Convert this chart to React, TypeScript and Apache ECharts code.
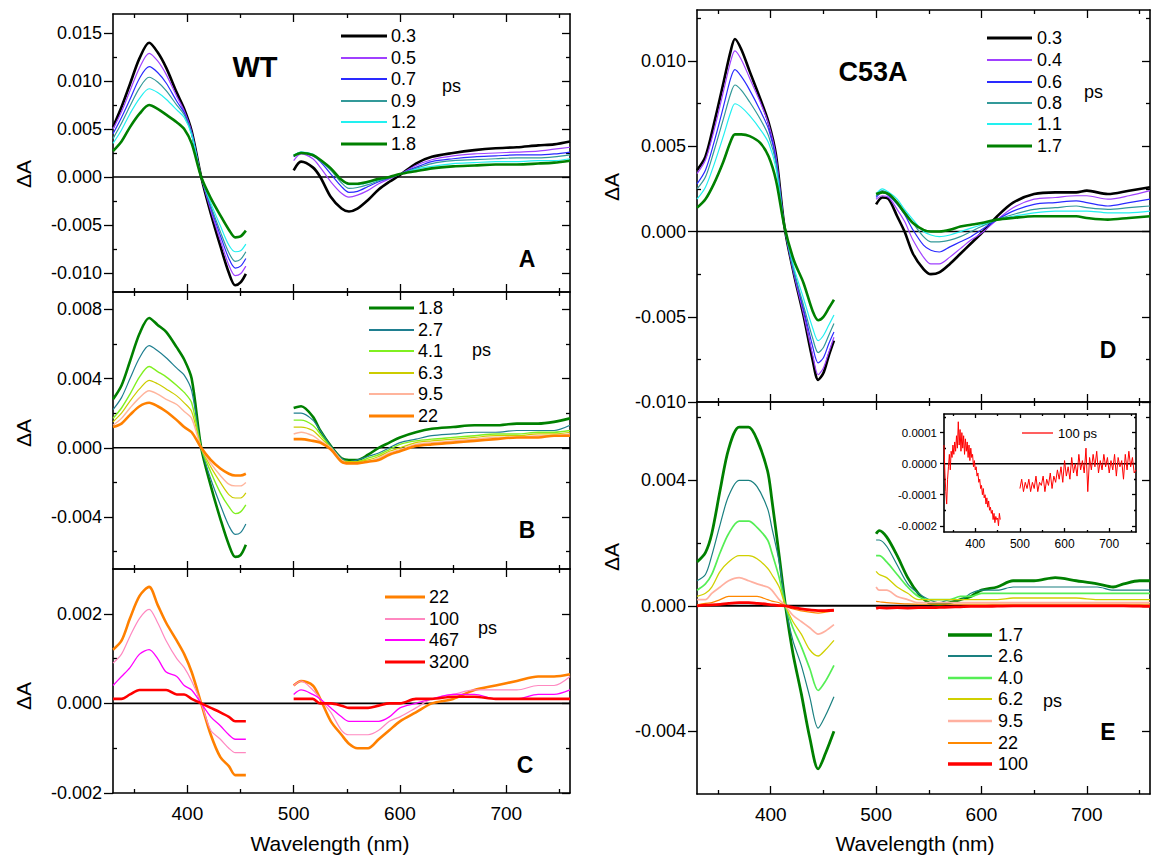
import React, { useEffect, useRef } from "react";
import * as echarts from "echarts";

const FONT = "'Liberation Sans', Arial, Helvetica, sans-serif";

const waveMin = 330;
const waveMax = 760;
const waveMajor = [400, 500, 600, 700];
const waveMinor = [350, 450, 550, 650, 750];

// ---------------- Panel A : WT, 0.3 - 1.8 ps ----------------
const aTimes = ["0.3", "0.5", "0.7", "0.9", "1.2", "1.8"];
const aLeftWave = [330, 338, 346, 355, 364, 372, 380, 390, 397, 404, 413, 422, 431, 439, 445, 450, 455];
const aRightWave = [500, 507, 518, 525, 535, 545, 552, 560, 570, 580, 590, 600, 615, 630, 650, 670, 690, 710, 730, 745, 760];
const aLeft = [
  [0.0052, 0.0073, 0.0097, 0.0124, 0.0140, 0.0130, 0.0114, 0.0088, 0.0071, 0.0048, 0, -0.0038, -0.0072, -0.0100, -0.0113, -0.0110, -0.0101],
  [0.0050, 0.0068, 0.0090, 0.0114, 0.0129, 0.0121, 0.0107, 0.0084, 0.0069, 0.0047, 0, -0.0035, -0.0066, -0.0092, -0.0103, -0.0101, -0.0093],
  [0.0045, 0.0062, 0.0081, 0.0103, 0.0115, 0.0109, 0.0098, 0.0079, 0.0067, 0.0046, 0, -0.0032, -0.0061, -0.0085, -0.0095, -0.0093, -0.0085],
  [0.0040, 0.0056, 0.0074, 0.0093, 0.0104, 0.0099, 0.0090, 0.0075, 0.0065, 0.0045, 0, -0.0030, -0.0057, -0.0079, -0.0088, -0.0086, -0.0078],
  [0.0035, 0.0049, 0.0066, 0.0082, 0.0092, 0.0088, 0.0081, 0.0070, 0.0062, 0.0044, 0, -0.0027, -0.0051, -0.0071, -0.0078, -0.0077, -0.0070],
  [0.0027, 0.0037, 0.0052, 0.0066, 0.0075, 0.0071, 0.0065, 0.0057, 0.0050, 0.0035, 0, -0.0022, -0.0040, -0.0055, -0.0063, -0.0062, -0.0056],
];
const aRight = [
  [0.0007, 0.0016, 0.0010, 0, -0.0021, -0.0033, -0.0036, -0.0033, -0.0024, -0.0013, -0.0005, 0.0002, 0.0014, 0.0021, 0.0025, 0.0028, 0.0030, 0.0031, 0.0033, 0.0034, 0.0037],
  [0.0017, 0.0024, 0.0019, 0.0010, -0.0005, -0.0017, -0.0021, -0.0019, -0.0014, -0.0007, -0.0002, 0.0003, 0.0012, 0.0018, 0.0022, 0.0024, 0.0025, 0.0026, 0.0027, 0.0029, 0.0031],
  [0.0021, 0.0025, 0.0022, 0.0016, 0.0003, -0.0010, -0.0016, -0.0015, -0.0010, -0.0005, -0.0001, 0.0003, 0.0010, 0.0016, 0.0019, 0.0021, 0.0022, 0.0023, 0.0023, 0.0024, 0.0026],
  [0.0022, 0.0026, 0.0023, 0.0017, 0.0007, -0.0006, -0.0012, -0.0011, -0.0008, -0.0004, -0.0001, 0.0003, 0.0009, 0.0014, 0.0017, 0.0018, 0.0019, 0.0020, 0.0020, 0.0021, 0.0023],
  [0.0023, 0.0026, 0.0024, 0.0018, 0.0009, -0.0003, -0.0008, -0.0008, -0.0006, -0.0003, 0, 0.0003, 0.0008, 0.0011, 0.0014, 0.0015, 0.0016, 0.0016, 0.0017, 0.0017, 0.0019],
  [0.0022, 0.0025, 0.0023, 0.0018, 0.0009, -0.0003, -0.0007, -0.0007, -0.0005, -0.0002, 0, 0.0003, 0.0006, 0.0009, 0.0011, 0.0012, 0.0013, 0.0013, 0.0014, 0.0015, 0.0017],
];
const aYMajor = [-0.01, -0.005, 0, 0.005, 0.01, 0.015];
const aYMinor = [-0.0075, -0.0025, 0.0025, 0.0075, 0.0125];

// ---------------- Panel B : WT, 1.8 - 22 ps ----------------
const bTimes = ["1.8", "2.7", "4.1", "6.3", "9.5", "22"];
const bLeftWave = [330, 338, 346, 355, 364, 372, 380, 390, 397, 404, 413, 422, 431, 439, 445, 450, 455];
const bRightWave = [500, 507, 518, 525, 535, 545, 552, 560, 570, 580, 590, 600, 615, 630, 650, 670, 690, 710, 730, 745, 760];
const bLeft = [
  [0.0028, 0.0036, 0.0050, 0.0066, 0.0075, 0.0071, 0.0067, 0.0058, 0.0051, 0.0040, 0, -0.0022, -0.0041, -0.0056, -0.0063, -0.0062, -0.0056],
  [0.0022, 0.0029, 0.0040, 0.0052, 0.0059, 0.0056, 0.0052, 0.0046, 0.0042, 0.0033, 0, -0.0018, -0.0033, -0.0045, -0.0050, -0.0049, -0.0044],
  [0.0017, 0.0023, 0.0031, 0.0041, 0.0047, 0.0044, 0.0041, 0.0036, 0.0032, 0.0026, 0, -0.0014, -0.0026, -0.0034, -0.0038, -0.0037, -0.0033],
  [0.0015, 0.0020, 0.0027, 0.0034, 0.0039, 0.0037, 0.0034, 0.0030, 0.0026, 0.0021, 0, -0.0011, -0.0020, -0.0027, -0.0029, -0.0029, -0.0026],
  [0.0013, 0.0017, 0.0023, 0.0029, 0.0033, 0.0031, 0.0028, 0.0025, 0.0021, 0.0017, 0, -0.0009, -0.0016, -0.0021, -0.0022, -0.0022, -0.0020],
  [0.0012, 0.0014, 0.0019, 0.0024, 0.0026, 0.0024, 0.0021, 0.0016, 0.0012, 0.0009, 0, -0.0007, -0.0012, -0.0015, -0.0016, -0.0016, -0.0015],
];
const bRight = [
  [0.0023, 0.0024, 0.0018, 0.0010, 0.0001, -0.0006, -0.0007, -0.0007, -0.0004, 0, 0.0003, 0.0006, 0.0009, 0.0011, 0.0012, 0.0013, 0.0013, 0.0014, 0.0014, 0.0015, 0.0017],
  [0.0020, 0.0020, 0.0016, 0.0010, 0.0001, -0.0006, -0.0008, -0.0007, -0.0005, -0.0003, 0, 0.0003, 0.0005, 0.0007, 0.0008, 0.0009, 0.0009, 0.0010, 0.0010, 0.0010, 0.0013],
  [0.0016, 0.0016, 0.0013, 0.0008, 0, -0.0007, -0.0008, -0.0008, -0.0006, -0.0004, -0.0001, 0.0002, 0.0004, 0.0005, 0.0006, 0.0007, 0.0008, 0.0008, 0.0009, 0.0009, 0.0010],
  [0.0012, 0.0012, 0.0010, 0.0006, 0, -0.0007, -0.0008, -0.0008, -0.0007, -0.0005, -0.0002, 0, 0.0003, 0.0004, 0.0005, 0.0006, 0.0007, 0.0007, 0.0008, 0.0008, 0.0009],
  [0.0008, 0.0009, 0.0007, 0.0004, 0, -0.0007, -0.0009, -0.0009, -0.0008, -0.0006, -0.0003, -0.0001, 0.0002, 0.0003, 0.0004, 0.0005, 0.0006, 0.0006, 0.0007, 0.0007, 0.0008],
  [0.0005, 0.0005, 0.0004, 0.0003, -0.0001, -0.0008, -0.0009, -0.0009, -0.0008, -0.0007, -0.0004, -0.0002, 0.0001, 0.0002, 0.0003, 0.0004, 0.0005, 0.0006, 0.0006, 0.0007, 0.0007],
];
const bYMajor = [-0.004, 0, 0.004, 0.008];
const bYMinor = [-0.006, -0.002, 0.002, 0.006];

// ---------------- Panel C : WT, 22 - 3200 ps ----------------
const cTimes = ["22", "100", "467", "3200"];
const cLeftWave = [330, 338, 346, 355, 364, 372, 380, 390, 397, 404, 413, 422, 431, 439, 445, 450, 455];
const cRightWave = [500, 507, 518, 525, 535, 545, 552, 560, 570, 580, 590, 600, 615, 630, 650, 670, 690, 710, 730, 745, 760];
const cLeft = [
  [0.0012, 0.0014, 0.0019, 0.0024, 0.0026, 0.0022, 0.0018, 0.0014, 0.0011, 0.0007, 0, -0.0007, -0.0012, -0.0014, -0.0016, -0.0016, -0.0016],
  [0.0009, 0.0011, 0.0015, 0.0019, 0.0021, 0.0018, 0.0014, 0.0010, 0.0008, 0.0005, 0, -0.0006, -0.0008, -0.0010, -0.0011, -0.0011, -0.0011],
  [0.0004, 0.0006, 0.0008, 0.0011, 0.0012, 0.0010, 0.0007, 0.0006, 0.0004, 0.0003, 0, -0.0003, -0.0005, -0.0007, -0.0008, -0.0008, -0.0008],
  [0.0001, 0.0001, 0.0002, 0.0003, 0.0003, 0.0003, 0.0003, 0.0002, 0.0002, 0.0001, 0, -0.0001, -0.0002, -0.0003, -0.0004, -0.0004, -0.0004],
];
const cRight = [
  [0.0004, 0.0005, 0.0004, 0.0001, -0.0004, -0.0007, -0.0009, -0.0010, -0.0010, -0.0008, -0.0006, -0.0004, -0.0002, 0, 0.0001, 0.0003, 0.0004, 0.0005, 0.0006, 0.0006, 0.00065],
  [0.0004, 0.0005, 0.0003, 0.0001, -0.0002, -0.0006, -0.0007, -0.0007, -0.0007, -0.0006, -0.0004, -0.0003, -0.0001, 0.0001, 0.0002, 0.0003, 0.0003, 0.0003, 0.0004, 0.0004, 0.0006],
  [0.0002, 0.0003, 0.0002, 0.0001, -0.0001, -0.0003, -0.0004, -0.0004, -0.0004, -0.0004, -0.0003, -0.0001, 0, 0.0001, 0.0002, 0.0002, 0.0001, 0.0001, 0.0002, 0.0002, 0.0003],
  [0.0001, 0.0001, 0.0001, 0, 0, -0.00005, -0.0001, -0.0001, -0.0001, -0.00005, 0, 0, 0.0001, 0.0001, 0.00015, 0.00015, 0.0001, 0.0001, 0.0001, 0.0001, 0.0001],
];
const cYMajor = [-0.002, 0, 0.002];
const cYMinor = [-0.001, 0.001];

// ---------------- Panel D : C53A, 0.3 - 1.7 ps ----------------
const dTimes = ["0.3", "0.4", "0.6", "0.8", "1.1", "1.7"];
const dLeftWave = [330, 338, 346, 355, 362, 366, 372, 380, 390, 398, 405, 413, 422, 431, 440, 445, 450, 455, 460];
const dRightWave = [500, 506, 512, 520, 527, 535, 545, 552, 560, 570, 580, 590, 600, 615, 630, 650, 670, 690, 700, 720, 740, 760];
const dLeft = [
  [0.0036, 0.0044, 0.0063, 0.0087, 0.0106, 0.0113, 0.0107, 0.0094, 0.0078, 0.0064, 0.0045, 0.0003, -0.0025, -0.0049, -0.0076, -0.0087, -0.0083, -0.0073, -0.0064],
  [0.0034, 0.0042, 0.0059, 0.0082, 0.0100, 0.0106, 0.0101, 0.0090, 0.0076, 0.0063, 0.0044, 0.0003, -0.0025, -0.0048, -0.0073, -0.0084, -0.0080, -0.0071, -0.0062],
  [0.0028, 0.0036, 0.0052, 0.0073, 0.0090, 0.0095, 0.0091, 0.0083, 0.0071, 0.0060, 0.0042, 0.0003, -0.0024, -0.0045, -0.0068, -0.0077, -0.0074, -0.0066, -0.0059],
  [0.0025, 0.0032, 0.0047, 0.0066, 0.0081, 0.0086, 0.0083, 0.0076, 0.0066, 0.0056, 0.0040, 0.0003, -0.0023, -0.0043, -0.0063, -0.0071, -0.0068, -0.0061, -0.0054],
  [0.0019, 0.0026, 0.0039, 0.0056, 0.0070, 0.0075, 0.0073, 0.0068, 0.0060, 0.0052, 0.0037, 0.0003, -0.0021, -0.0039, -0.0057, -0.0064, -0.0061, -0.0055, -0.0049],
  [0.0014, 0.0019, 0.0028, 0.0041, 0.0053, 0.0057, 0.0057, 0.0056, 0.0052, 0.0044, 0.0030, 0.0003, -0.0017, -0.0030, -0.0047, -0.0052, -0.0050, -0.0045, -0.0040],
];
const dRight = [
  [0.0016, 0.0020, 0.0019, 0.0009, 0, -0.0013, -0.0022, -0.0025, -0.0024, -0.0019, -0.0013, -0.0007, -0.0001, 0.0009, 0.0017, 0.0022, 0.0023, 0.0023, 0.0024, 0.0022, 0.0024, 0.0026],
  [0.0019, 0.0021, 0.0020, 0.0013, 0.0006, -0.0005, -0.0015, -0.0019, -0.0019, -0.0015, -0.0010, -0.0005, -0.0001, 0.0007, 0.0014, 0.0019, 0.0020, 0.0021, 0.0021, 0.0019, 0.0021, 0.0024],
  [0.0020, 0.0023, 0.0021, 0.0016, 0.0010, 0.0001, -0.0008, -0.0011, -0.0012, -0.0009, -0.0006, -0.0003, 0.0001, 0.0007, 0.0012, 0.0016, 0.0017, 0.0018, 0.0017, 0.0015, 0.0017, 0.0019],
  [0.0021, 0.0024, 0.0022, 0.0017, 0.0012, 0.0005, -0.0003, -0.0006, -0.0006, -0.0005, -0.0003, 0, 0.0003, 0.0007, 0.0010, 0.0013, 0.0014, 0.0015, 0.0014, 0.0013, 0.0014, 0.0015],
  [0.0022, 0.0025, 0.0023, 0.0019, 0.0013, 0.0007, 0, -0.0002, -0.0003, -0.0002, 0, 0.0002, 0.0004, 0.0007, 0.0009, 0.0011, 0.0012, 0.0012, 0.0012, 0.0011, 0.0011, 0.0012],
  [0.0022, 0.0023, 0.0022, 0.0017, 0.0011, 0.0005, 0.0001, 0, 0, 0.0001, 0.0003, 0.0004, 0.0005, 0.0007, 0.0008, 0.0009, 0.0009, 0.0009, 0.0008, 0.0007, 0.0008, 0.0009],
];
const dYMajor = [-0.01, -0.005, 0, 0.005, 0.01];
const dYMinor = [-0.0075, -0.0025, 0.0025, 0.0075, 0.0125];

// ---------------- Panel E : C53A, 1.7 - 100 ps ----------------
const eTimes = ["1.7", "2.6", "4.0", "6.2", "9.5", "22", "100"];
const eLeftWave = [330, 338, 344, 352, 360, 370, 379, 387, 397, 401, 408, 414, 421, 429, 437, 445, 452, 460];
const eRightWave = [500, 503, 510, 520, 530, 540, 550, 560, 570, 580, 590, 600, 615, 630, 650, 670, 690, 710, 725, 735, 750, 760];
const eLeft = [
  [0.0014, 0.0017, 0.0023, 0.0037, 0.0050, 0.0057, 0.0057, 0.0053, 0.0043, 0.0034, 0.0016, 0, -0.0015, -0.0028, -0.0042, -0.0052, -0.0047, -0.0040],
  [0.0008, 0.0010, 0.0016, 0.0026, 0.0035, 0.0040, 0.0040, 0.0038, 0.0031, 0.0025, 0.0014, 0, -0.0011, -0.0019, -0.0029, -0.0039, -0.0035, -0.0029],
  [0.0005, 0.0007, 0.0010, 0.0017, 0.0023, 0.0027, 0.0027, 0.0025, 0.0021, 0.0017, 0.0009, 0, -0.0007, -0.0013, -0.0020, -0.0027, -0.0024, -0.0019],
  [0.0003, 0.0004, 0.0006, 0.0011, 0.0014, 0.0016, 0.0016, 0.0015, 0.0012, 0.0010, 0.0006, 0, -0.0005, -0.0009, -0.0014, -0.0016, -0.0014, -0.0011],
  [0.0002, 0.0002, 0.0004, 0.0006, 0.0008, 0.0009, 0.0008, 0.0007, 0.0006, 0.0005, 0.0002, 0, -0.0003, -0.0005, -0.0007, -0.0009, -0.0008, -0.0006],
  [0.00003, 0.00008, 0.0001, 0.0002, 0.0003, 0.0003, 0.0003, 0.0003, 0.0002, 0.00015, 0.0001, 0, -0.0001, -0.00016, -0.0002, -0.00023, -0.0002, -0.00015],
  [0, 0.00002, 0.00003, 0.00005, 0.00008, 0.0001, 0.0001, 0.00008, 0.00005, 0.00003, 0.00001, 0, -0.00005, -0.0001, -0.00013, -0.00015, -0.00015, -0.00014],
];
const eRight = [
  [0.0023, 0.0024, 0.0022, 0.0016, 0.0009, 0.0004, 0.0001, 0.00005, 0.0001, 0.0002, 0.0003, 0.0005, 0.0006, 0.0008, 0.0008, 0.0009, 0.0008, 0.0007, 0.0006, 0.0007, 0.0008, 0.0008],
  [0.0021, 0.0021, 0.0019, 0.0013, 0.0007, 0.0004, 0.0002, 0.0001, 0.0002, 0.0002, 0.0004, 0.0005, 0.0005, 0.0006, 0.0006, 0.0006, 0.0006, 0.0006, 0.0005, 0.0005, 0.0005, 0.0005],
  [0.0016, 0.0016, 0.0014, 0.0010, 0.0006, 0.0003, 0.0002, 0.0002, 0.0002, 0.0003, 0.0003, 0.0004, 0.0004, 0.0004, 0.0004, 0.0004, 0.0004, 0.0004, 0.0004, 0.0004, 0.0004, 0.0004],
  [0.0011, 0.0010, 0.0009, 0.0006, 0.0004, 0.0002, 0.0002, 0.0002, 0.0002, 0.0002, 0.0002, 0.0002, 0.0002, 0.00025, 0.00025, 0.00025, 0.00025, 0.0002, 0.0002, 0.0002, 0.0002, 0.0002],
  [0.0006, 0.0005, 0.0005, 0.0003, 0.0002, 0.0001, 0.0001, 0.0001, 0.0001, 0.0001, 0.0001, 0.0001, 0.0001, 0.0001, 0.0001, 0.0001, 0.0001, 0.0001, 0.0001, 0.0001, 0.0001, 0.0001],
  [0.00014, 0.00013, 0.0001, 0.00008, 0.00006, 0.00005, 0.00005, 0.00005, 0.00005, 0.00005, 0.00005, 0.00005, 0.00005, 0.00005, 0.00005, 0.00005, 0.00005, 0.00005, 0.00005, 0.00005, 0.00005, 0.00005],
  [-0.00008, -0.00006, -0.00007, -0.00006, -0.00007, -0.00006, -0.00006, -0.00005, -0.00004, -0.00003, -0.00002, -0.00002, -0.00001, 0, 0, 0, 0, 0, 0, 0, -0.00001, -0.00002],
];
const eYMajor = [-0.004, 0, 0.004];
const eYMinor = [-0.002, 0.002, 0.006];

// ---------------- Inset : C53A, 100 ps ----------------
const insetTime = "100 ps";
const insetLeftWave = [330, 332, 334, 336, 338, 340, 342, 344, 346, 348, 350, 352, 354, 356, 358, 360, 362, 364, 366, 368, 370, 372, 374, 376, 378, 380, 382, 384, 386, 388, 390, 392, 394, 396, 398, 400, 402, 404, 406, 408, 410, 412, 414, 416, 418, 420, 422, 424, 426, 428, 430, 432, 434, 436, 438, 440, 442, 444, 446, 448, 450, 452, 454, 456];
const insetLeft = [0.6e-4, -0.3e-4, -0.9e-4, -1.3e-4, -0.5e-4, -0.1e-4, 0.3e-4, -0.2e-4, 0.4e-4, 0.2e-4, 0.6e-4, 0.3e-4, 0.7e-4, 0.4e-4, 0.9e-4, 0.5e-4, 1.35e-4, 0.6e-4, 1.1e-4, 0.4e-4, 1.0e-4, 0.5e-4, 0.9e-4, 0.3e-4, 0.8e-4, 0.4e-4, 0.7e-4, 0.2e-4, 0.6e-4, 0.1e-4, 0.5e-4, 0.2e-4, 0.3e-4, -0.1e-4, 0.1e-4, -0.2e-4, -0.1e-4, -0.4e-4, -0.3e-4, -0.6e-4, -0.5e-4, -0.8e-4, -0.7e-4, -1.0e-4, -0.8e-4, -1.1e-4, -1.0e-4, -1.3e-4, -1.1e-4, -1.4e-4, -1.2e-4, -1.5e-4, -1.4e-4, -1.6e-4, -1.5e-4, -1.8e-4, -1.6e-4, -1.9e-4, -1.7e-4, -1.8e-4, -1.75e-4, -2.0e-4, -1.6e-4, -1.8e-4];
const insetRightWave = [500, 504, 508, 512, 516, 520, 524, 528, 532, 536, 540, 544, 548, 552, 556, 560, 564, 568, 572, 576, 580, 584, 588, 592, 596, 600, 604, 608, 612, 616, 620, 624, 628, 632, 636, 640, 644, 648, 652, 656, 660, 664, 668, 672, 676, 680, 684, 688, 692, 696, 700, 704, 708, 712, 716, 720, 724, 728, 732, 736, 740, 744, 748, 752, 756, 760];
const insetRight = [-0.8e-4, -0.5e-4, -0.9e-4, -0.6e-4, -0.8e-4, -0.5e-4, -0.9e-4, -0.6e-4, -0.8e-4, -0.4e-4, -0.9e-4, -0.6e-4, -0.7e-4, -0.4e-4, -0.9e-4, -0.5e-4, -0.7e-4, -0.3e-4, -0.8e-4, -0.4e-4, -0.6e-4, -0.2e-4, -0.5e-4, -0.1e-4, -0.6e-4, 0.1e-4, -0.4e-4, -0.1e-4, -0.5e-4, 0.2e-4, -0.3e-4, 0, -0.4e-4, 0.3e-4, -0.2e-4, 0.1e-4, -0.3e-4, 0.5e-4, -0.9e-4, 0.2e-4, -0.2e-4, 0.3e-4, -0.1e-4, 0.4e-4, -0.3e-4, 0.1e-4, -0.2e-4, 0.3e-4, -0.1e-4, 0.2e-4, -0.3e-4, 0.1e-4, -0.2e-4, 0.3e-4, -0.4e-4, 0.2e-4, -0.1e-4, 0.1e-4, -0.5e-4, 0.3e-4, -0.2e-4, 0.4e-4, -0.1e-4, 0.2e-4, -0.3e-4, -0.2e-4];
const insetYMajor = [-0.0002, -0.0001, 0, 0.0001];
const insetYMinor = [-0.00015, -0.00005, 0.00005, 0.00015];

// ---------------- styles ----------------
const earlyColors = ["#000000", "#a040ff", "#2a2aff", "#339999", "#22f0f0", "#008000"];
const earlyWidths = [2.6, 1.2, 1.2, 1.2, 1.2, 2.6];
const bColors = ["#008000", "#1f7f90", "#80f020", "#cccc00", "#ffb49c", "#ff8000"];
const bWidths = [2.6, 1.2, 1.4, 1.2, 1.4, 2.6];
const cColors = ["#ff8000", "#ff88c0", "#ff00ff", "#ff0000"];
const cWidths = [2.6, 1.2, 1.3, 2.6];
const eColors = ["#008000", "#1a8080", "#55ee55", "#d0d000", "#ffb0a0", "#ff8800", "#ff0000"];
const eWidths = [2.8, 1.2, 1.7, 1.3, 1.7, 1.2, 2.8];

type Panel = {
  id: string;
  grid: { left: number; top: number; width: number; height: number };
  yMin: number;
  yMax: number;
  yMajor: number[];
  yMinor: number[];
  digits: number;
  xLabels: boolean;
  small?: boolean;
  curves: { name: string; lx: number[]; ly: number[]; rx: number[]; ry: number[]; color: string; width: number }[];
};

function curvesOf(times: string[], lx: number[], rx: number[], L: number[][], R: number[][], colors: string[], widths: number[]) {
  return times.map((t, i) => ({ name: t, lx, ly: L[i], rx, ry: R[i], color: colors[i], width: widths[i] }));
}

const panels: Panel[] = [
  { id: "A", grid: { left: 113, top: 14, width: 457, height: 278 }, yMin: -0.012, yMax: 0.017, yMajor: aYMajor, yMinor: aYMinor, digits: 3, xLabels: false, curves: curvesOf(aTimes, aLeftWave, aRightWave, aLeft, aRight, earlyColors, earlyWidths) },
  { id: "B", grid: { left: 113, top: 292, width: 457, height: 277 }, yMin: -0.007, yMax: 0.009, yMajor: bYMajor, yMinor: bYMinor, digits: 3, xLabels: false, curves: curvesOf(bTimes, bLeftWave, bRightWave, bLeft, bRight, bColors, bWidths) },
  { id: "C", grid: { left: 113, top: 569, width: 457, height: 224 }, yMin: -0.002, yMax: 0.003, yMajor: cYMajor, yMinor: cYMinor, digits: 3, xLabels: true, curves: curvesOf(cTimes, cLeftWave, cRightWave, cLeft, cRight, cColors, cWidths) },
  { id: "D", grid: { left: 697, top: 10, width: 453, height: 392 }, yMin: -0.01, yMax: 0.013, yMajor: dYMajor, yMinor: dYMinor, digits: 3, xLabels: false, curves: curvesOf(dTimes, dLeftWave, dRightWave, dLeft, dRight, earlyColors, earlyWidths) },
  { id: "E", grid: { left: 697, top: 402, width: 453, height: 392 }, yMin: -0.006, yMax: 0.0065, yMajor: eYMajor, yMinor: eYMinor, digits: 3, xLabels: true, curves: curvesOf(eTimes, eLeftWave, eRightWave, eLeft, eRight, eColors, eWidths) },
  { id: "inset", grid: { left: 944, top: 414, width: 192, height: 118 }, yMin: -0.00022, yMax: 0.00016, yMajor: insetYMajor, yMinor: insetYMinor, digits: 4, xLabels: true, small: true, curves: [{ name: insetTime, lx: insetLeftWave, ly: insetLeft, rx: insetRightWave, ry: insetRight, color: "#ff0000", width: 1 }] },
];

function fmt(digits: number) {
  return (v: number) => (Math.abs(v) < 1e-12 ? (0).toFixed(digits) : v.toFixed(digits));
}

function buildOption() {
  const grid: any[] = [];
  const xAxis: any[] = [];
  const yAxis: any[] = [];
  const series: any[] = [];
  const line = { color: "#000", width: 1.6 };
  const tickLine = { color: "#000", width: 1.3 };

  panels.forEach((p, gi) => {
    const small = !!p.small;
    grid.push({ ...p.grid, show: small, backgroundColor: "#fff", borderWidth: 0 });
    const xFont = small ? 12 : 19;
    const yFont = small ? 11.5 : 18;
    const majLen = small ? 4 : 8;
    const minLen = small ? 2 : 4;
    const xBase = { type: "value", gridIndex: gi, min: waveMin, max: waveMax, splitLine: { show: false } };
    const yBase = { type: "value", gridIndex: gi, min: p.yMin, max: p.yMax, splitLine: { show: false } };
    const xi = xAxis.length;
    xAxis.push({
      ...xBase, position: "bottom",
      axisLine: { show: true, onZero: false, lineStyle: line },
      axisTick: { show: true, inside: true, length: majLen, customValues: waveMajor, lineStyle: tickLine },
      axisLabel: p.xLabels ? { show: true, customValues: waveMajor, margin: small ? 6 : 11, fontSize: xFont, fontFamily: FONT, color: "#000" } : { show: false },
    });
    xAxis.push({ ...xBase, position: "bottom", axisLine: { show: false, onZero: false }, axisTick: { show: true, inside: true, length: minLen, customValues: waveMinor, lineStyle: tickLine }, axisLabel: { show: false } });
    xAxis.push({ ...xBase, position: "top", axisLine: { show: true, onZero: false, lineStyle: line }, axisTick: { show: true, inside: true, length: majLen, customValues: waveMajor, lineStyle: tickLine }, axisLabel: { show: false } });
    xAxis.push({ ...xBase, position: "top", axisLine: { show: false, onZero: false }, axisTick: { show: true, inside: true, length: minLen, customValues: waveMinor, lineStyle: tickLine }, axisLabel: { show: false } });

    const yi = yAxis.length;
    yAxis.push({
      ...yBase, position: "left",
      axisLine: { show: true, onZero: false, lineStyle: line },
      axisTick: { show: true, inside: false, length: small ? 4 : 9, customValues: p.yMajor, lineStyle: tickLine },
      axisLabel: { show: true, customValues: p.yMajor, formatter: fmt(p.digits), margin: small ? 7 : 11, fontSize: yFont, fontFamily: FONT, color: "#000" },
    });
    yAxis.push({ ...yBase, position: "left", axisLine: { show: false, onZero: false }, axisTick: { show: true, inside: true, length: minLen, customValues: p.yMinor, lineStyle: tickLine }, axisLabel: { show: false } });
    yAxis.push({ ...yBase, position: "right", axisLine: { show: true, onZero: false, lineStyle: line }, axisTick: { show: true, inside: true, length: majLen, customValues: p.yMajor, lineStyle: tickLine }, axisLabel: { show: false } });
    yAxis.push({ ...yBase, position: "right", axisLine: { show: false, onZero: false }, axisTick: { show: true, inside: true, length: minLen, customValues: p.yMinor, lineStyle: tickLine }, axisLabel: { show: false } });

    series.push({
      type: "line", name: p.id + " zero", xAxisIndex: xi, yAxisIndex: yi, silent: true, symbol: "none",
      data: [[waveMin, 0], [waveMax, 0]], lineStyle: { color: "#000", width: p.id === "E" ? 2 : 1.6 }, z: 1,
    });
    p.curves.forEach((c) => {
      const common = {
        type: "line", name: p.id + " " + c.name, xAxisIndex: xi, yAxisIndex: yi, symbol: "none", showSymbol: false,
        smooth: small ? false : 0.3, lineStyle: { color: c.color, width: c.width }, z: 3,
      };
      series.push({ ...common, data: c.lx.map((x, k) => [x, c.ly[k]]) });
      series.push({ ...common, data: c.rx.map((x, k) => [x, c.ry[k]]) });
    });
  });
  return { grid, xAxis, yAxis, series };
}

type LegendSpec = { x1: number; x2: number; tx: number; ys: number[]; ps: [number, number]; colors: string[]; widths: number[]; labels: string[] };

const legendLayouts: LegendSpec[] = [
  { x1: 341, x2: 387, tx: 391, ys: [36, 58, 79, 101, 122, 144], ps: [442, 86], colors: earlyColors, widths: earlyWidths, labels: aTimes },
  { x1: 369, x2: 414, tx: 418, ys: [308, 330, 351, 373, 394, 416], ps: [472, 350], colors: bColors, widths: bWidths, labels: bTimes },
  { x1: 385, x2: 425, tx: 429, ys: [597, 619, 640, 662], ps: [478, 628], colors: cColors, widths: cWidths, labels: cTimes },
  { x1: 987, x2: 1032, tx: 1037, ys: [38, 60, 82, 103, 124, 146], ps: [1084, 92], colors: earlyColors, widths: earlyWidths, labels: dTimes },
  { x1: 948, x2: 992, tx: 998, ys: [635, 656, 678, 699, 721, 743, 764], ps: [1043, 701], colors: eColors, widths: eWidths, labels: eTimes },
];

function txt(text: string, x: number, y: number, size: number, opts: any = {}) {
  return {
    type: "text", x, y, rotation: opts.rotation || 0, z: 100,
    style: {
      text, fill: "#000", fontSize: size, fontFamily: FONT, fontWeight: opts.bold ? "bold" : "normal",
      align: opts.align || "center", verticalAlign: "middle", textAlign: opts.align || "center", textVerticalAlign: "middle",
    },
  };
}

function buildGraphic() {
  const g: any[] = [];
  legendLayouts.forEach((L) => {
    L.labels.forEach((lab, i) => {
      g.push({ type: "line", z: 100, shape: { x1: L.x1, y1: L.ys[i], x2: L.x2, y2: L.ys[i] }, style: { stroke: L.colors[i], lineWidth: L.widths[i] + 0.6 } });
      g.push(txt(lab, L.tx, L.ys[i], 18, { align: "left" }));
    });
    g.push(txt("ps", L.ps[0], L.ps[1], 18, { align: "left" }));
  });
  // inset legend
  g.push({ type: "line", z: 100, shape: { x1: 1022, y1: 433, x2: 1053, y2: 433 }, style: { stroke: "#ff6060", lineWidth: 2 } });
  g.push(txt(insetTime, 1058, 433, 13, { align: "left" }));
  // titles
  g.push(txt("WT", 255, 67, 29, { bold: true }));
  g.push(txt("C53A", 873, 72, 27, { bold: true }));
  // panel letters
  g.push(txt("A", 527, 259, 23, { bold: true }));
  g.push(txt("B", 527, 530, 23, { bold: true }));
  g.push(txt("C", 525, 765, 23, { bold: true }));
  g.push(txt("D", 1108, 350, 23, { bold: true }));
  g.push(txt("E", 1108, 732, 23, { bold: true }));
  // y titles
  [[23, 174], [23, 433], [23, 696], [611, 187], [611, 557]].forEach(([x, y]) => g.push(txt("ΔA", x, y, 21, { rotation: Math.PI / 2 })));
  // x titles
  g.push(txt("Wavelength (nm)", 330, 843, 21));
  g.push(txt("Wavelength (nm)", 915, 843, 21));
  return g;
}

export default function App() {
  const ref = useRef<HTMLDivElement>(null);
  useEffect(() => {
    if (!ref.current) return;
    const chart = echarts.init(ref.current, undefined, { renderer: "svg" });
    const base = buildOption();
    chart.setOption({
      animation: false,
      backgroundColor: "#ffffff",
      ...base,
      graphic: buildGraphic(),
    });
    return () => chart.dispose();
  }, []);
  return <div ref={ref} style={{ position: "absolute", left: 0, top: 0, width: 1154, height: 860, background: "#fff" }} />;
}
